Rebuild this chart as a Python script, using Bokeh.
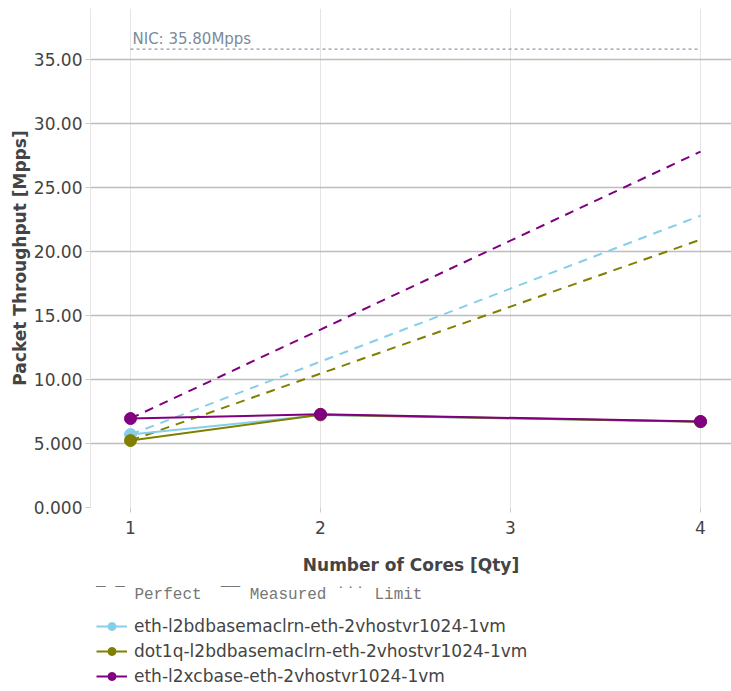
from bokeh.plotting import figure
from bokeh.layouts import column
from bokeh.models import (FixedTicker, CustomJSTickFormatter, Range1d, Legend, LegendItem,
                          Label)
from bokeh.embed import file_html
from bokeh.resources import INLINE

cores = [1, 2, 4]
names = ["eth-l2bdbasemaclrn-eth-2vhostvr1024-1vm",
         "dot1q-l2bdbasemaclrn-eth-2vhostvr1024-1vm",
         "eth-l2xcbase-eth-2vhostvr1024-1vm"]
colors = ["#87CEEB", "#808000", "#800080"]
measured = [[5.70, 7.22, 6.70],
            [5.23, 7.25, 6.70],
            [6.95, 7.28, 6.72]]
perfect = [[5.70, 11.40, 22.80],
           [5.23, 10.46, 20.92],
           [6.95, 13.90, 27.80]]
nic_limit = 35.80
nic_x = [1, 4]
y_ticks = [0, 5, 10, 15, 20, 25, 30, 35]
x_ticks = [1, 2, 3, 4]

FONT = "DejaVu Sans"

p = figure(width=731, height=580, output_backend="svg", toolbar_location=None,
           x_range=Range1d(0.7895, 4.163), y_range=Range1d(0, 38.98),
           min_border_left=90, min_border_right=0, min_border_top=8,
           min_border_bottom=73)
p.outline_line_color = None

# grids
p.xgrid.ticker = FixedTicker(ticks=x_ticks)
p.ygrid.ticker = FixedTicker(ticks=y_ticks)
p.xgrid.grid_line_color = "#e4e4e4"
p.ygrid.grid_line_color = "#bdbdbd"
p.ygrid.grid_line_width = 1.3

# axes
p.xaxis.ticker = FixedTicker(ticks=x_ticks)
p.yaxis.ticker = FixedTicker(ticks=y_ticks)
p.yaxis.formatter = CustomJSTickFormatter(code="return tick.toPrecision(4);")
for ax in (p.xaxis[0], p.yaxis[0]):
    ax.major_label_text_font = FONT
    ax.major_label_text_font_size = "17px"
    ax.major_label_text_color = "#444444"
    ax.axis_label_text_font = FONT
    ax.axis_label_text_font_size = "17px"
    ax.axis_label_text_font_style = "bold"
    ax.axis_label_text_color = "#444444"
    ax.minor_tick_line_color = None
    ax.major_tick_in = 0
    ax.major_tick_out = 5
    ax.major_tick_line_color = "#cccccc"
p.xaxis.axis_line_color = None
p.yaxis.axis_line_color = "#e4e4e4"
p.xaxis.axis_label = "Number of Cores [Qty]"
p.yaxis.axis_label = "Packet Throughput [Mpps]"
p.xaxis.major_label_standoff = 8
p.xaxis.axis_label_standoff = 18
p.yaxis.major_label_standoff = 3
p.yaxis.axis_label_standoff = 1

# NIC limit
p.line(nic_x, [nic_limit, nic_limit], line_color="#8a9aab", line_width=1.2,
       line_dash="3 3")
p.add_layout(Label(x=nic_x[0], y=nic_limit, text="NIC: %.2fMpps" % nic_limit,
                   x_offset=2, y_offset=1, text_font=FONT, text_font_size="15px",
                   text_color="#7a8a9c"))

# perfect lines
for c, pf in zip(colors, perfect):
    p.line(cores, pf, line_color=c, line_width=2, line_dash="9 7")

for c, m in zip(colors, measured):
    p.line(cores, m, line_color=c, line_width=2)
    p.scatter(cores, m, size=12, fill_color=c, line_color=c)

# legend panel below the chart (its own renderers lie outside its view)
lp = figure(width=731, height=111, output_backend="svg", toolbar_location=None,
            x_range=Range1d(100, 101), y_range=Range1d(100, 101),
            min_border_left=0, min_border_right=0, min_border_top=0,
            min_border_bottom=0)
lp.outline_line_color = None
lp.axis.visible = False
lp.grid.visible = False
items = []
for n, c, m in zip(names, colors, measured):
    r1 = lp.line(cores, m, line_color=c, line_width=2)
    r2 = lp.scatter(cores, m, size=12, fill_color=c, line_color=c)
    items.append(LegendItem(label=n, renderers=[r1, r2]))

legend = Legend(items=items, location=(6, 5), orientation="vertical",
                label_text_font=FONT, label_text_font_size="17px",
                label_text_color="#444444", glyph_width=31, glyph_height=20,
                label_height=20, label_standoff=7, spacing=5, padding=0,
                margin=0, border_line_color=None, background_fill_alpha=0,
                title="¯ ¯ Perfect  ¯¯ Measured ˙˙˙ Limit",
                title_text_font="Liberation Mono", title_text_font_size="16px",
                title_text_color="#777777", title_text_font_style="normal",
                title_standoff=12)
lp.add_layout(legend, "center")

layout = column(p, lp, spacing=0)
open("out.html", "w").write(file_html(layout, INLINE))
